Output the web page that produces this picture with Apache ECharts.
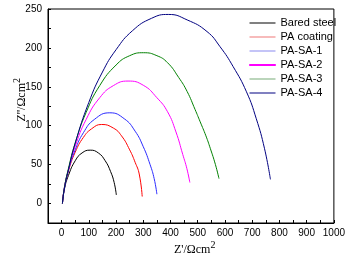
<!DOCTYPE html>
<html>
<head>
    <meta charset="utf-8">
    <title>EIS Nyquist</title>
    <script src="https://cdn.jsdelivr.net/npm/echarts@6/dist/echarts.min.js"></script>
    <style>
        html, body { margin: 0; padding: 0; background: #fff; }
    </style>
</head>
<body>
    <div id="main" style="width: 348px;height:264px;"></div>

    <script type="text/javascript">
        // values (Z' , Z'')
        var names = ['Bared steel', 'PA coating', 'PA-SA-1', 'PA-SA-2', 'PA-SA-3', 'PA-SA-4'];
        var colors = ['#000000', '#ff0000', '#2a2aff', '#ff00ff', '#008000', '#000080'];
        var legendColors = ['#000000', '#ee7777', '#8888ee', '#ff00ff', '#77aa77', '#000080'];

        var bareX = [3, 10, 25, 50, 75, 105, 135, 160, 180, 193, 201];
        var bareY = [0, 18, 36, 55, 65, 68.6, 65, 55, 41, 27, 11];

        var paX = [3, 10, 25, 50, 80, 110, 147, 190, 220, 250, 270, 285, 296];
        var paY = [0, 20, 42, 66, 85, 96, 101.6, 97, 87, 69, 53, 38, 9];

        var sa1X = [3, 10, 25, 50, 80, 120, 177, 230, 270, 300, 325, 340, 350];
        var sa1Y = [0, 20, 43, 69, 91, 108, 116.6, 109, 93, 73, 50, 32, 12];

        var sa2X = [3, 10, 25, 50, 90, 140, 190, 244, 300, 350, 389, 420, 445, 460, 471];
        var sa2Y = [0, 19.5, 43, 73.5, 108, 136, 151.5, 157.4, 152, 136, 118, 92, 63, 45, 27];

        var sa3X = [3, 10, 25, 50, 90, 140, 200, 250, 301, 350, 389, 430, 461, 490, 509, 530, 546, 565, 578];
        var sa3Y = [0, 20, 45, 78, 117, 151.6, 178, 190, 193.8, 190, 181, 162, 144, 121, 105, 87, 71, 50, 32];

        var sa4X = [3, 10, 25, 50, 100, 150, 200, 260, 330, 392, 461, 534, 582, 630, 679, 715, 745, 767];
        var sa4Y = [0, 18.6, 43, 77.6, 130, 169, 197.7, 222, 238, 243, 236, 221, 201.5, 176, 143.6, 109, 71, 31];

        var xLabels = [0, 100, 200, 300, 400, 500, 600, 700, 800, 900, 1000];
        var yLabels = [0, 50, 100, 150, 200, 250];

        var allX = [bareX, paX, sa1X, sa2X, sa3X, sa4X];
        var allY = [bareY, paY, sa1Y, sa2Y, sa3Y, sa4Y];

        function zip(xs, ys) {
            var out = [];
            for (var i = 0; i < xs.length; i++) out.push([xs[i], ys[i]]);
            return out;
        }

        var series = [];
        var legendData = [];
        for (var s = 0; s < names.length; s++) {
            series.push({
                name: names[s],
                type: 'line',
                smooth: true,
                symbol: 'none',
                lineStyle: { color: colors[s], width: 1 },
                itemStyle: { color: colors[s] },
                data: zip(allX[s], allY[s])
            });
            legendData.push({
                name: names[s],
                itemStyle: {
                    color: legendColors[s],
                    borderColor: legendColors[s],
                    borderWidth: names[s] === 'PA-SA-2' ? 1 : 0
                }
            });
        }

        var myChart = echarts.init(document.getElementById('main'));

        var labelFont = { color: '#000', fontSize: 10, fontFamily: 'Liberation Sans' };
        function onlyIn(list) {
            return function (v) { return list.indexOf(v) >= 0 ? String(v) : ''; };
        }

        option = {
            animation: false,
            grid: {
                left: 48, right: 9, top: 9, bottom: 41,
                show: true, borderColor: '#000', borderWidth: 1
            },
            legend: {
                orient: 'vertical',
                left: 244,
                top: 12,
                icon: 'rect',
                itemWidth: 26,
                itemHeight: 1,
                itemGap: 2,
                textStyle: { color: '#000', fontSize: 11, fontFamily: 'Liberation Sans', lineHeight: 12 },
                data: legendData
            },
            xAxis: {
                type: 'value',
                min: -50,
                max: 1000,
                interval: 50,
                axisLine: { onZero: false, lineStyle: { color: '#000', width: 1 } },
                axisTick: { show: true, inside: true, length: 3, lineStyle: { color: '#000', width: 1 } },
                axisLabel: Object.assign({ margin: 5, formatter: onlyIn(xLabels), showMinLabel: true, showMaxLabel: true, hideOverlap: false }, labelFont),
                splitLine: { show: false }
            },
            yAxis: {
                type: 'value',
                min: -25,
                max: 250,
                interval: 25,
                axisLine: { show: true, onZero: false, lineStyle: { color: '#000', width: 1 } },
                axisTick: { show: true, inside: true, length: 3, lineStyle: { color: '#000', width: 1 } },
                axisLabel: Object.assign({ margin: 6, formatter: onlyIn(yLabels) }, labelFont),
                splitLine: { show: false }
            },
            graphic: [{
                type: 'text',
                left: 174,
                top: 240,
                style: {
                    text: "{b|Z'/Ωcm}{s|2}",
                    rich: {
                        b: { fontFamily: 'Liberation Serif', fontSize: 12, fill: '#000', verticalAlign: 'bottom' },
                        s: { fontFamily: 'Liberation Serif', fontSize: 10, fill: '#000', verticalAlign: 'top', padding: [0, 0, 6, 0] }
                    }
                }
            }, {
                type: 'text',
                left: 12,
                top: 78,
                rotation: Math.PI / 2,
                style: {
                    text: "{b|Z''/Ωcm}{s|2}",
                    rich: {
                        b: { fontFamily: 'Liberation Serif', fontSize: 12, fill: '#000', verticalAlign: 'bottom' },
                        s: { fontFamily: 'Liberation Serif', fontSize: 10, fill: '#000', verticalAlign: 'top', padding: [0, 0, 6, 0] }
                    }
                }
            }],
            series: series
        };

        myChart.setOption(option);
    </script>
</body>
</html>
